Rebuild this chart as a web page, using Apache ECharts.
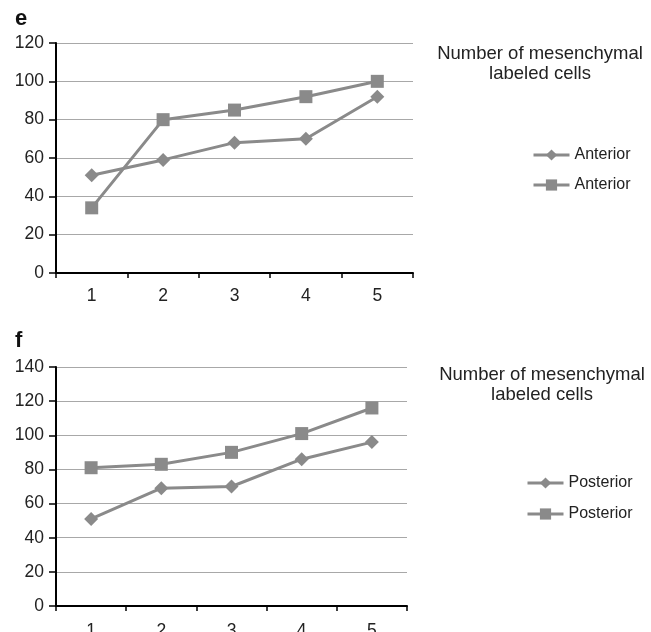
<!DOCTYPE html>
<html><head><meta charset="utf-8">
<script src="https://cdn.jsdelivr.net/npm/echarts@6/dist/echarts.min.js"></script>
<style>html,body{margin:0;padding:0;background:#fff}#c{width:651px;height:632px}</style>
</head><body><div id="c"></div>
<script>
var categories = ['1','2','3','4','5'];
var eDiamond = [51, 59, 68, 70, 92];
var eSquare = [34, 80, 85, 92, 100];
var fDiamond = [51, 69, 70, 86, 96];
var fSquare = [81, 83, 90, 101, 116];
var eLegend = ['Anterior', 'Anterior'];
var fLegend = ['Posterior', 'Posterior'];
var titleText = 'Number of mesenchymal\nlabeled cells';

var FONT = 'Liberation Sans, Arial, sans-serif';
var LINE = '#8a8a8a';
function xAxis(gi, margin){
  return {type:'category', gridIndex:gi, data:categories, boundaryGap:true,
    axisLine:{lineStyle:{color:'#000', width:2}},
    axisTick:{show:true, length:5, lineStyle:{color:'#000', width:1.5}},
    axisLabel:{color:'#222', fontSize:17.5, fontFamily:FONT, margin:margin}};
}
function yAxis(gi, max){
  return {type:'value', gridIndex:gi, min:0, max:max, interval:20,
    axisLine:{show:true, lineStyle:{color:'#000', width:2}},
    axisTick:{show:true, length:7, lineStyle:{color:'#000', width:1.5}},
    splitLine:{lineStyle:{color:'#a8a8a8', width:1}},
    axisLabel:{color:'#222', fontSize:17.5, fontFamily:FONT, margin:12}};
}
function series(name, data, sym, size, gi){
  return {name:name, type:'line', xAxisIndex:gi, yAxisIndex:gi, data:data,
    symbol:sym, symbolSize:size, showSymbol:true,
    lineStyle:{color:LINE, width:3}, itemStyle:{color:LINE}, animation:false};
}
var chart = echarts.init(document.getElementById('c'));
chart.setOption({
  animation:false,
  grid:[
    {left:56, top:43, width:357, height:230, containLabel:false, outerBoundsMode:'none'},
    {left:56, top:367, width:351, height:239, containLabel:false, outerBoundsMode:'none'}
  ],
  xAxis:[xAxis(0, 14), xAxis(1, 16)],
  yAxis:[yAxis(0,120), yAxis(1,140)],
  title:[
    {text:'e', left:10, top:3, textStyle:{fontSize:22, fontWeight:'bold', fontFamily:FONT, color:'#111'}},
    {text:'f', left:10, top:325, textStyle:{fontSize:22, fontWeight:'bold', fontFamily:FONT, color:'#111'}},
    {text:titleText, left:535, top:39, textAlign:'center', textStyle:{fontSize:18.5, fontWeight:'normal', fontFamily:FONT, color:'#222', lineHeight:20, align:'center'}},
    {text:titleText, left:537, top:360, textAlign:'center', textStyle:{fontSize:18.5, fontWeight:'normal', fontFamily:FONT, color:'#222', lineHeight:20, align:'center'}}
  ],
  legend:[
    {data:['eD','eS'], orient:'vertical', left:527, top:142, itemWidth:36, itemHeight:14, itemGap:14,
     formatter:function(n){return n==='eD'?eLegend[0]:eLegend[1];}, lineStyle:{width:3},
     textStyle:{fontSize:16, fontFamily:FONT, color:'#222'}, selectedMode:false},
    {data:['fD','fS'], orient:'vertical', left:521, top:470, itemWidth:36, itemHeight:14, itemGap:15,
     formatter:function(n){return n==='fD'?fLegend[0]:fLegend[1];}, lineStyle:{width:3},
     textStyle:{fontSize:16, fontFamily:FONT, color:'#222'}, selectedMode:false}
  ],
  series:[
    series('eD', eDiamond, 'diamond', 14, 0),
    series('eS', eSquare, 'rect', 13, 0),
    series('fD', fDiamond, 'diamond', 14, 1),
    series('fS', fSquare, 'rect', 13, 1)
  ]
});
</script></body></html>
